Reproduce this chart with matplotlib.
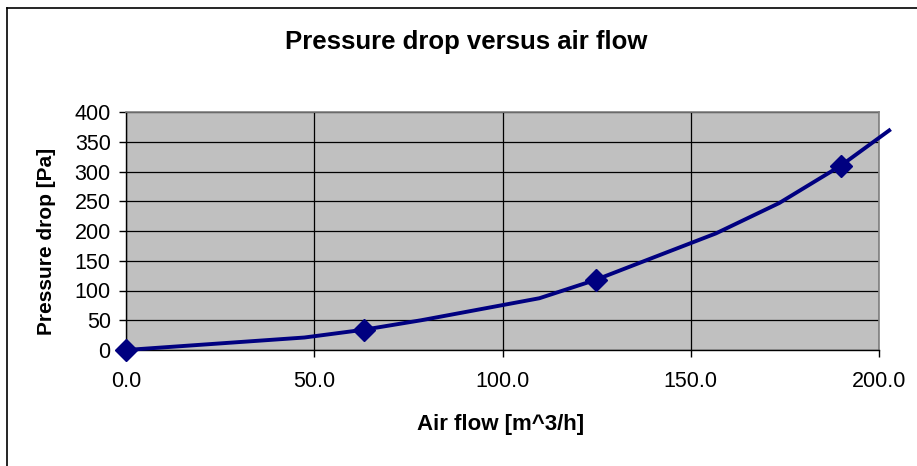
import matplotlib
matplotlib.use("Agg")
import matplotlib.pyplot as plt
from matplotlib.lines import Line2D

plt.rcParams['font.family'] = ['Liberation Sans', 'DejaVu Sans']

# Data
air_flow = [0.0, 47.4, 63.1, 78.4, 109.8, 124.8, 139.9, 156.7, 173.5, 189.9, 202.7]
pressure_drop = [0, 21, 34, 50, 87, 118, 155, 196, 247, 310, 369]
marker_idx = [0, 2, 5, 9]
x_ticks = [0, 50, 100, 150, 200]
y_ticks = [0, 50, 100, 150, 200, 250, 300, 350, 400]

W, H = 917, 466
fig = plt.figure(figsize=(W / 100, H / 100), dpi=100)
fig.patch.set_facecolor('white')

# chart area border (left and top edges visible)
fig.add_artist(Line2D([7 / W, 7 / W], [0, 1 - 8 / H], transform=fig.transFigure,
                      color='black', lw=1.2))
fig.add_artist(Line2D([7 / W, 1], [1 - 8 / H, 1 - 8 / H], transform=fig.transFigure,
                      color='black', lw=1.2))

left, right, top, bottom = 126, 879, 112, 350
ax = fig.add_axes([left / W, 1 - bottom / H, (right - left) / W, (bottom - top) / H])
ax.set_facecolor('#C0C0C0')

ax.plot(air_flow, pressure_drop, color='#000080', lw=2.8, marker='D', ms=11.5,
        markevery=marker_idx, markerfacecolor='#000080', markeredgecolor='#000080',
        clip_on=False, zorder=5, solid_joinstyle='round')

ax.set_xlim(0, 200)
ax.set_ylim(0, 400)
ax.set_xticks(x_ticks)
ax.set_yticks(y_ticks)
ax.set_xticklabels([f"{v:.1f}" for v in x_ticks])
ax.set_yticklabels([str(v) for v in y_ticks])
ax.grid(True, color='black', lw=0.9)
ax.set_axisbelow(True)

for s in ['top', 'right']:
    ax.spines[s].set_color('#808080')
    ax.spines[s].set_linewidth(1.2)
for s in ['left', 'bottom']:
    ax.spines[s].set_color('black')
    ax.spines[s].set_linewidth(1.0)

ax.tick_params(axis='both', direction='out', length=5, width=1, colors='black',
               labelsize=15.5)
ax.tick_params(axis='x', pad=10)
ax.tick_params(axis='y', pad=6)

ax.set_xlabel('Air flow [m^3/h]', fontsize=16, fontweight='bold')
ax.set_ylabel('Pressure drop [Pa]', fontsize=15, fontweight='bold')
ax.xaxis.set_label_coords(0.498, -0.311)
ax.xaxis.label.set_va('center')
ax.yaxis.set_label_coords(-0.105, 0.456)
ax.yaxis.label.set_va('center')

fig.text(466 / W, 1 - 42 / H, 'Pressure drop versus air flow',
         ha='center', va='center', fontsize=18.5, fontweight='bold')

fig.savefig('out.png', dpi=100)
